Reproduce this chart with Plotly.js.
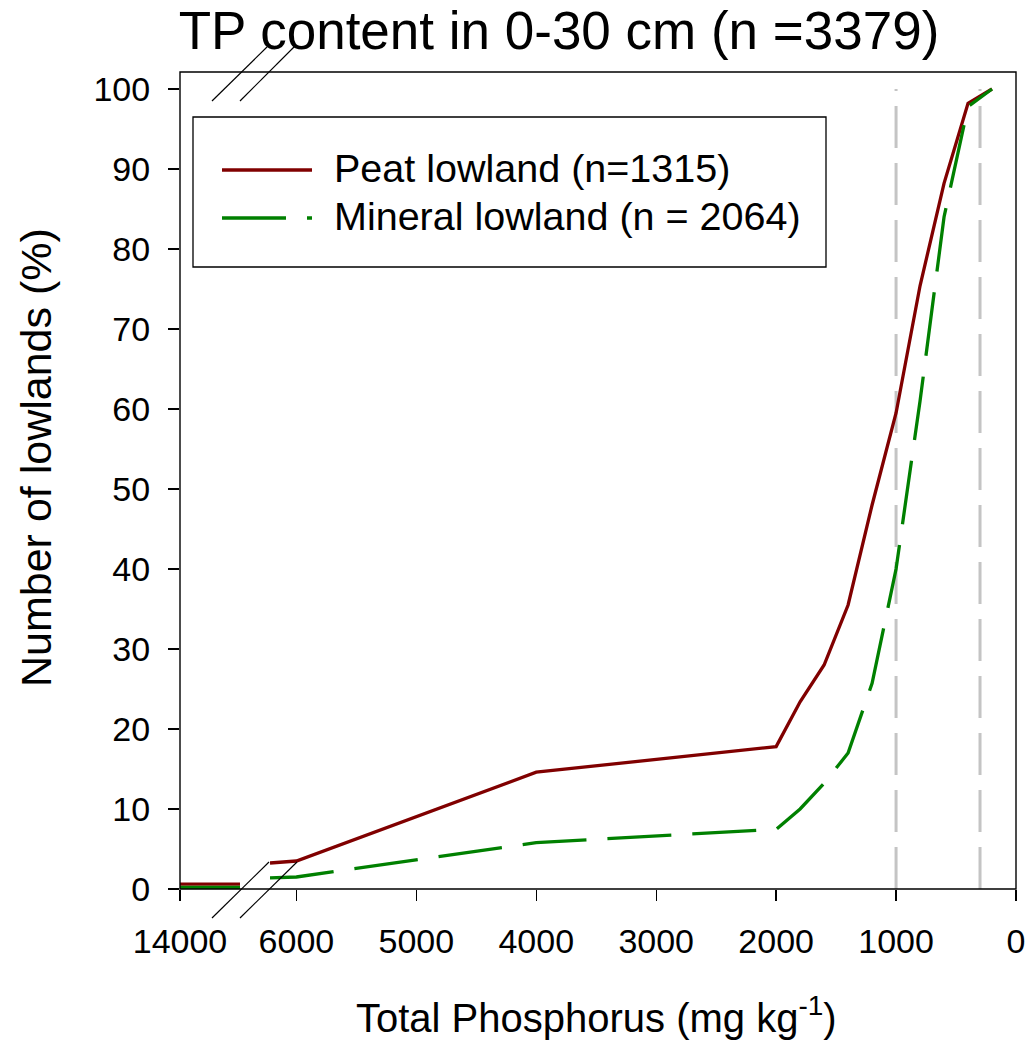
<!DOCTYPE html>
<html>
<head>
<meta charset="utf-8">
<script src="https://cdn.plot.ly/plotly-3.0.1.min.js"></script>
<style>html,body{margin:0;padding:0;background:#fff;}#chart{width:1031px;height:1042px;}</style>
</head>
<body>
<div id="chart"></div>
<script>
// ---- data ----
const tpLeft = [14000, 13500];
const peatLeft = [0.6, 0.6];
const mineralLeft = [0.2, 0.2];

const tpRight = [6220, 6000, 4000, 2000, 1800, 1600, 1400, 1200, 1000, 800, 600, 400, 200];
const peatRight = [3.25, 3.5, 14.6, 17.8, 23.4, 28.0, 35.5, 48.0, 59.5, 75.4, 88.2, 98.2, 100];
const mineralRight = [1.4, 1.5, 5.8, 7.46, 10.0, 13.2, 17.0, 25.7, 40.0, 61.0, 84.0, 97.8, 100];

const leftTicks = [14000];
const rightTicks = [6000, 5000, 4000, 3000, 2000, 1000, 0];
const yTicks = [0, 10, 20, 30, 40, 50, 60, 70, 80, 90, 100];
const refLines = [1000, 300];

const seriesNames = ['Peat lowland (n=1315)', 'Mineral lowland (n = 2064)'];
const titleText = 'TP content in 0-30 cm (n =3379)';
const xTitle = 'Total Phosphorus (mg kg<sup>-1</sup>)';
const yTitle = 'Number of lowlands (%)';

// ---- styles ----
const FONT = 'Liberation Sans, Arial, sans-serif';
const peatColor = '#800000';
const minColor = '#008000';
const lw = 3.3;
const minDash = '64px,21px';

// plot area in pixels
const L = 180, R = 1016, T = 72, B = 889;
const W = R - L, H = B - T;
const px = v => (v - L) / W;
const py = v => (B - v) / H;

const traces = [
  {x: tpLeft, y: peatLeft, xaxis: 'x', yaxis: 'y', mode: 'lines', line: {color: peatColor, width: lw}, showlegend: false, hoverinfo: 'skip'},
  {x: tpLeft, y: mineralLeft, xaxis: 'x', yaxis: 'y', mode: 'lines', line: {color: minColor, width: lw}, showlegend: false, hoverinfo: 'skip'},
  {x: tpRight, y: peatRight, xaxis: 'x2', yaxis: 'y', mode: 'lines', line: {color: peatColor, width: lw}, showlegend: false, name: seriesNames[0]},
  {x: tpRight, y: mineralRight, xaxis: 'x2', yaxis: 'y', mode: 'lines', line: {color: minColor, width: lw, dash: minDash}, showlegend: false, name: seriesNames[1]}
];

const shapes = [];
// reference dashed lines
refLines.forEach(v => shapes.push({type: 'line', xref: 'x2', yref: 'y', x0: v, x1: v, y0: 0, y1: 100,
  line: {color: '#c4c4c4', width: 3, dash: '42px,15px'}, layer: 'below'}));
// frame
shapes.push({type: 'rect', xref: 'paper', yref: 'paper', x0: 0, x1: 1, y0: 0, y1: 1, line: {color: '#000', width: 1.4}});
// axis break marks
[[212, 918, 269, 862], [240, 918, 297, 862], [212, 101, 267, 47], [240, 101, 296, 45]].forEach(s =>
  shapes.push({type: 'line', xref: 'paper', yref: 'paper', x0: px(s[0]), y0: py(s[1]), x1: px(s[2]), y1: py(s[3]), line: {color: '#000', width: 1.2}}));
// legend box
shapes.push({type: 'rect', xref: 'paper', yref: 'paper', x0: px(193), x1: px(826), y0: py(267), y1: py(117), line: {color: '#000', width: 1.3}, fillcolor: 'rgba(255,255,255,0)'});
shapes.push({type: 'line', xref: 'paper', yref: 'paper', x0: px(222), x1: px(312), y0: py(170), y1: py(170), line: {color: peatColor, width: lw}});
shapes.push({type: 'line', xref: 'paper', yref: 'paper', x0: px(222), x1: px(312), y0: py(218), y1: py(218), line: {color: minColor, width: lw, dash: minDash}});

const annotations = [
  {xref: 'paper', yref: 'paper', x: px(332), y: py(168), xanchor: 'left', yanchor: 'middle', text: seriesNames[0], showarrow: false, font: {family: FONT, size: 39.5, color: '#000'}},
  {xref: 'paper', yref: 'paper', x: px(332), y: py(216), xanchor: 'left', yanchor: 'middle', text: seriesNames[1], showarrow: false, font: {family: FONT, size: 39.5, color: '#000'}},
  {xref: 'paper', yref: 'paper', x: px(596), y: py(1015), xanchor: 'center', yanchor: 'middle', text: xTitle, showarrow: false, font: {family: FONT, size: 40, color: '#000'}},
  {xref: 'paper', yref: 'paper', x: px(36), y: py(458), xanchor: 'center', yanchor: 'middle', text: yTitle, textangle: -90, showarrow: false, font: {family: FONT, size: 43, color: '#000'}}
];

const tickFont = {family: FONT, size: 34, color: '#000'};

const layout = {
  width: 1031, height: 1042,
  margin: {l: L, r: 1031 - R, t: T, b: 1042 - B, pad: 0},
  paper_bgcolor: '#fff', plot_bgcolor: '#fff',
  showlegend: false,
  title: {text: titleText, font: {family: FONT, size: 53, color: '#000'}, xref: 'paper', x: px(559), xanchor: 'center', yref: 'container', y: 1 - 30 / 1042, yanchor: 'middle'},
  xaxis: {domain: [0, px(240)], range: [tpLeft[0], tpLeft[1]], tickvals: leftTicks, ticktext: leftTicks.map(String),
    ticks: 'outside', ticklen: 11, tickwidth: 1.3, tickcolor: '#000', showgrid: false, zeroline: false, showline: false,
    tickfont: tickFont, ticklabelstandoff: 11, anchor: 'y'},
  xaxis2: {domain: [px(270), 1], range: [tpRight[0], 0], tickvals: rightTicks, ticktext: rightTicks.map(String),
    ticks: 'outside', ticklen: 11, tickwidth: 1.3, tickcolor: '#000', showgrid: false, zeroline: false, showline: false,
    tickfont: tickFont, ticklabelstandoff: 11, anchor: 'y'},
  yaxis: {range: [0, 102.125], tickvals: yTicks, ticktext: yTicks.map(String), ticks: 'outside', ticklen: 11, tickwidth: 1.3, tickcolor: '#000',
    showgrid: false, zeroline: false, showline: false, tickfont: tickFont, ticklabelstandoff: 11},
  shapes: shapes,
  annotations: annotations
};

Plotly.newPlot('chart', traces, layout, {displayModeBar: false, staticPlot: true});
</script>
</body>
</html>
